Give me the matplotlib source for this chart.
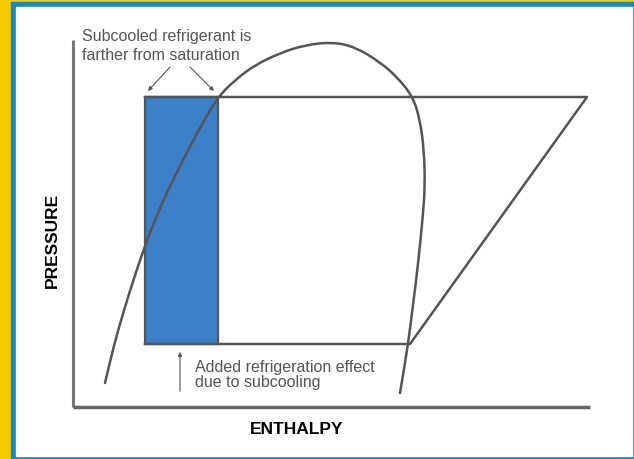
import matplotlib.pyplot as plt
from matplotlib.patches import Rectangle, PathPatch
from matplotlib.path import Path

# saturation dome (pixel coords, y down)
dome_x = [105, 114, 124, 135, 147, 161, 178, 197, 217, 235, 255, 280, 305, 333,
          355, 380, 398, 413, 420, 424, 425, 423, 418, 413, 408, 400]
dome_y = [383, 345, 310, 275, 240, 205, 170, 133, 98, 80, 65, 53, 45, 42,
          47, 62, 78, 97, 120, 150, 185, 215, 265, 305, 345, 393]

# refrigeration cycle outline
cycle_x = [145, 587, 410, 145]
cycle_y = [97, 97, 344, 344]

# subcooling area
sub_x0, sub_x1 = 145, 218
sub_top, sub_bottom = 97, 344

line_col = '#555555'
text_col = '#555555'


def smooth_path(xs, ys):
    # quadratic bezier through midpoints, read points act as control points
    pts = list(zip(xs, ys))
    mid = lambda a, b: ((a[0] + b[0]) / 2, (a[1] + b[1]) / 2)
    verts = [pts[0], mid(pts[0], pts[1])]
    codes = [Path.MOVETO, Path.LINETO]
    for i in range(1, len(pts) - 1):
        verts += [pts[i], mid(pts[i], pts[i + 1])]
        codes += [Path.CURVE3, Path.CURVE3]
    verts.append(pts[-1])
    codes.append(Path.LINETO)
    return Path(verts, codes)


fig = plt.figure(figsize=(6.34, 4.59), dpi=100)
ax = fig.add_axes([0, 0, 1, 1])
ax.set_xlim(0, 634)
ax.set_ylim(459, 0)
ax.axis('off')

# frame
ax.add_patch(Rectangle((0, 0), 634, 459, color='#f5cc00', zorder=0))
ax.add_patch(Rectangle((11, 2), 623, 457, color='#1a87bd', zorder=0))
ax.add_patch(Rectangle((16, 7), 616, 449, color='white', zorder=0))

# axes lines
ax.plot([73, 73], [40, 407], color='#777777', lw=2.2, solid_capstyle='butt')
ax.plot([73, 590], [407, 407], color='#666666', lw=2.5, solid_capstyle='butt')

# subcooled rectangle
ax.add_patch(Rectangle((sub_x0, sub_top), sub_x1 - sub_x0, sub_bottom - sub_top,
                       facecolor='#3b80c8', edgecolor=line_col, lw=1.6, zorder=2))

ax.plot(cycle_x, cycle_y, color=line_col, lw=1.8, zorder=3,
        solid_joinstyle='round')
ax.add_patch(PathPatch(smooth_path(dome_x, dome_y), facecolor='none',
                       edgecolor=line_col, lw=1.8, capstyle='round', zorder=3))

# annotations
ax.text(82, 46, 'Subcooled refrigerant is\nfarther from saturation',
        fontsize=11.5, color=text_col, ha='left', va='center', linespacing=1.25,
        family='Liberation Sans')
arrow = dict(arrowstyle='-|>', color=text_col, lw=0.8, mutation_scale=6)
ax.annotate('', xy=(146, 93), xytext=(172, 65), arrowprops=arrow)
ax.annotate('', xy=(216, 93), xytext=(188, 65), arrowprops=arrow)

ax.text(195, 375, 'Added refrigeration effect\ndue to subcooling',
        fontsize=11.5, color=text_col, ha='left', va='center', linespacing=1.0,
        family='Liberation Sans')
ax.annotate('', xy=(180, 349), xytext=(180, 394), arrowprops=arrow)

ax.text(297, 430, 'ENTHALPY', fontsize=12.5, fontweight='bold',
        ha='center', va='center', family='Liberation Sans')
ax.text(52, 240, 'PRESSURE', fontsize=12.5, fontweight='bold', rotation=90,
        ha='center', va='center', family='Liberation Sans')

fig.savefig('out.png', dpi=100)
